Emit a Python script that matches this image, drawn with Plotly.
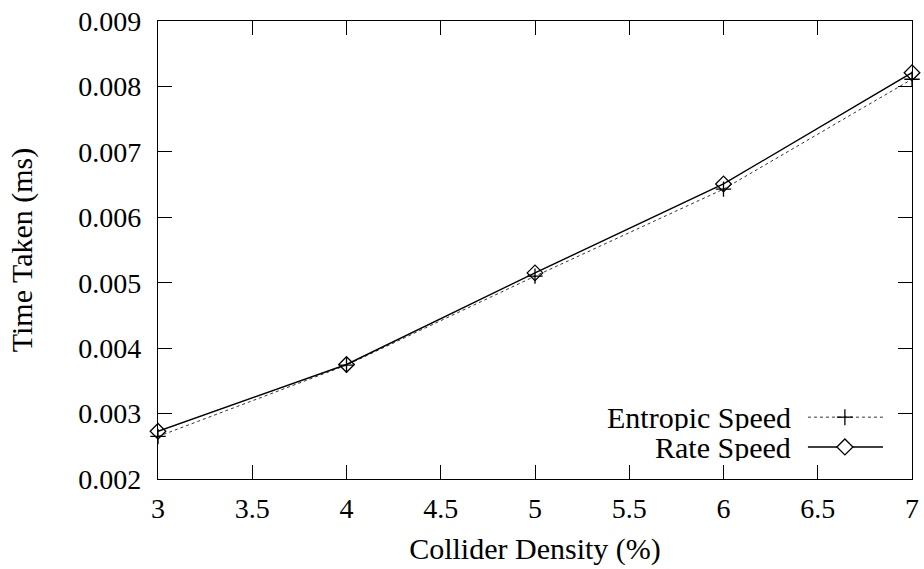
import plotly.graph_objects as go

# Collider density (%) and measured time per step (ms)
density = [3, 4, 5, 6, 7]
entropic_speed = [0.00265, 0.00374, 0.00510, 0.00643, 0.00811]
rate_speed = [0.00273, 0.00375, 0.00515, 0.00651, 0.00821]

x_ticks = [3, 3.5, 4, 4.5, 5, 5.5, 6, 6.5, 7]
y_ticks = [0.002, 0.003, 0.004, 0.005, 0.006, 0.007, 0.008, 0.009]

FONT = "Liberation Serif"
TICK_FS = 28
TEXT_FS = 30

fig = go.Figure()
fig.add_trace(go.Scatter(
    x=density, y=entropic_speed, mode="lines+markers", name="Entropic Speed",
    line=dict(color="#333333", width=1, dash="dot"),
    marker=dict(symbol="cross-thin-open", size=11, color="black",
                line=dict(color="black", width=1.3)),
    showlegend=False, cliponaxis=False,
))
fig.add_trace(go.Scatter(
    x=density, y=rate_speed, mode="lines+markers", name="Rate Speed",
    line=dict(color="black", width=1.4),
    marker=dict(symbol="diamond-open", size=12, color="black",
                line=dict(color="black", width=1.3)),
    showlegend=False, cliponaxis=False,
))

# gnuplot-style key: label on the left, line sample on the right
key_rows = [("Entropic Speed", 0.135, "dot", "plus"),
            ("Rate Speed", 0.070, "solid", "diamond")]
x0, x1, xm = 0.862, 0.9615, 0.911
for label, yk, dash, sym in key_rows:
    fig.add_annotation(x=0.8395, y=yk, xref="paper", yref="paper", text=label,
                       showarrow=False, xanchor="right", yanchor="middle",
                       height=28, valign="middle",
                       xshift=2, font=dict(family=FONT, size=TEXT_FS, color="black"))
    fig.add_shape(type="line", xref="paper", yref="paper", x0=x0, x1=x1, y0=yk, y1=yk,
                  line=dict(color="black" if dash == "solid" else "#333333",
                            width=1.4 if dash == "solid" else 1, dash=dash))
    # marker glyph in pixel offsets around the key centre
    if sym == "plus":
        fig.add_shape(type="line", xref="paper", yref="paper", xsizemode="pixel",
                      ysizemode="pixel", xanchor=xm, yanchor=yk,
                      x0=-8, x1=8, y0=0, y1=0, line=dict(color="black", width=1.3))
        fig.add_shape(type="line", xref="paper", yref="paper", xsizemode="pixel",
                      ysizemode="pixel", xanchor=xm, yanchor=yk,
                      x0=0, x1=0, y0=-8, y1=8, line=dict(color="black", width=1.3))
    else:
        fig.add_shape(type="path", xref="paper", yref="paper", xsizemode="pixel",
                      ysizemode="pixel", xanchor=xm, yanchor=yk,
                      path="M -8 0 L 0 8 L 8 0 L 0 -8 Z",
                      fillcolor="white", line=dict(color="black", width=1.3))

axis_common = dict(
    showline=True, linecolor="black", linewidth=1.3, mirror="allticks",
    ticks="inside", ticklen=14, tickwidth=1, tickcolor="black",
    showgrid=False, zeroline=False, automargin=False,
    tickfont=dict(family=FONT, size=TICK_FS, color="black"),
)

fig.update_layout(
    width=924, height=569,
    margin=dict(l=158, r=12, t=21, b=90),
    paper_bgcolor="white", plot_bgcolor="white",
    xaxis=dict(range=[3, 7], tickvals=x_ticks, ticktext=[f"{v:g}" for v in x_ticks],
               ticklabelstandoff=4,
               title=dict(text="Collider Density (%)", standoff=15,
                          font=dict(family=FONT, size=TEXT_FS, color="black")),
               **axis_common),
    yaxis=dict(range=[0.002, 0.009], tickvals=y_ticks,
               ticktext=[f"{v:.3f}" for v in y_ticks], ticklabelstandoff=10,
               title=dict(text="Time Taken (ms)", standoff=36,
                          font=dict(family=FONT, size=TEXT_FS, color="black")),
               **axis_common),
)

fig.write_html("out.html")
